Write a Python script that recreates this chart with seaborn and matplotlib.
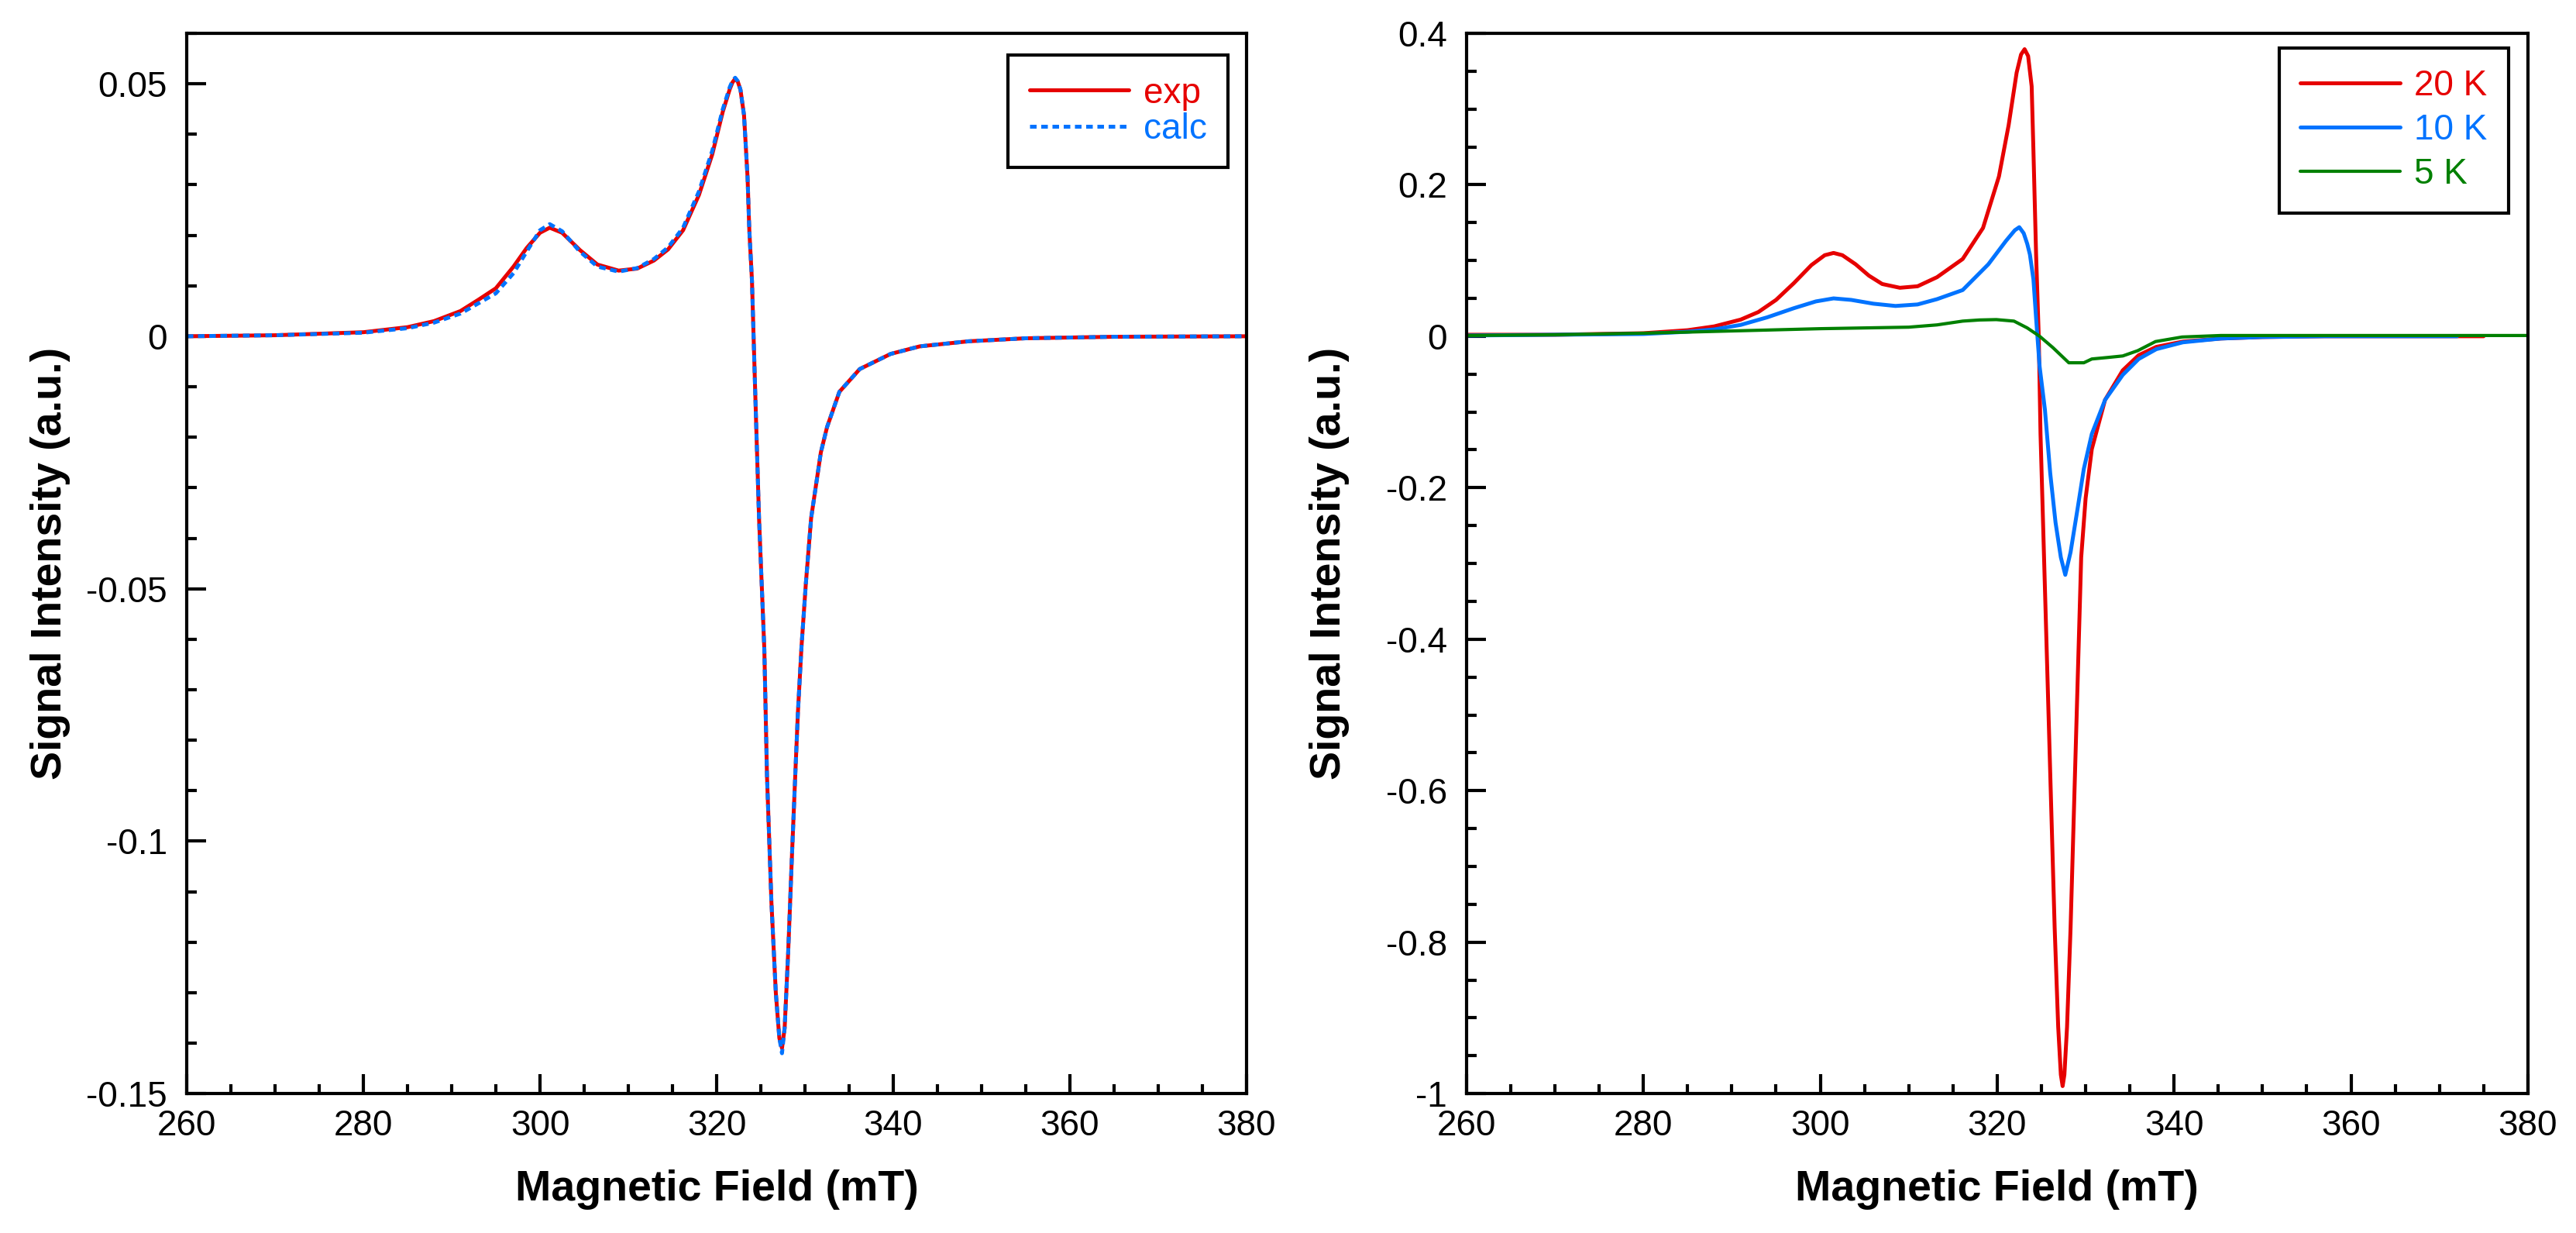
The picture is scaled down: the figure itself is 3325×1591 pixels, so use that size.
import matplotlib
matplotlib.use("Agg")
import matplotlib.pyplot as plt
from matplotlib.ticker import MultipleLocator, FuncFormatter
import seaborn as sns

# --- left panel: experimental vs calculated spectrum ---
field_exp = [260, 270, 280, 285, 288, 291, 293, 295, 297, 298.5, 300, 301.1, 302.5, 304.5,
             306.5, 308.9, 311, 312.9, 314.5, 316.2, 318, 319.5, 320.7, 321.5, 321.8, 322.1,
             322.4, 322.7, 323.1, 323.5, 323.7, 324.0, 324.4, 324.8, 325.4, 325.7, 326.2,
             326.7, 327.1, 327.4, 327.7, 328.1, 328.5, 328.9, 329.2, 329.6, 330.1, 330.7,
             331.8, 332.5, 333.9, 336.2, 339.7, 343, 348.5, 355, 365, 380]
signal_exp = [0.0, 0.0002, 0.0008, 0.0018, 0.003, 0.005, 0.0072, 0.0095, 0.0138, 0.0175,
              0.0205, 0.0215, 0.0205, 0.0171, 0.0142, 0.0130, 0.0134, 0.0150, 0.0172, 0.0210,
              0.0280, 0.0360, 0.0445, 0.0490, 0.0503, 0.0510, 0.0504, 0.0488, 0.0438, 0.0315,
              0.0210, 0.0110, -0.0130, -0.036, -0.062, -0.087, -0.112, -0.130, -0.139, -0.141,
              -0.137, -0.122, -0.104, -0.087, -0.0746, -0.0617, -0.049, -0.036, -0.023,
              -0.018, -0.011, -0.0065, -0.0035, -0.002, -0.001, -0.0004, -0.0001, 0.0]
signal_calc = [0.0, 0.0002, 0.0007, 0.0016, 0.0027, 0.0045, 0.0065, 0.0085, 0.0125, 0.0168,
               0.0210, 0.0222, 0.0208, 0.0168, 0.0138, 0.0128, 0.0135, 0.0153, 0.0176, 0.0215,
               0.0287, 0.0367, 0.0450, 0.0494, 0.0506, 0.0512, 0.0505, 0.0488, 0.0438, 0.0315,
               0.0210, 0.0110, -0.0130, -0.036, -0.062, -0.087, -0.112, -0.130, -0.139, -0.142,
               -0.137, -0.122, -0.104, -0.087, -0.0746, -0.0617, -0.049, -0.036, -0.023,
               -0.018, -0.011, -0.0065, -0.0035, -0.002, -0.001, -0.0004, -0.0001, 0.0]

# --- right panel: temperature series ---
field_20k = [260, 270, 280, 285, 288, 291, 293, 295, 297, 299, 300.5, 301.5, 302.5, 304,
             305.5, 307, 309, 311, 313.2, 316.1, 318.4, 320.2, 321.3, 322.2, 322.7, 323.1,
             323.5, 323.9, 324.1, 324.4, 324.7, 324.9, 325.3, 325.7, 326.1, 326.5, 326.9,
             327.2, 327.4, 327.6, 327.9, 328.3, 328.7, 329.1, 329.5, 330.0, 330.7, 332.2,
             334.2, 336, 338.0, 341, 345.3, 350, 357, 375]
signal_20k = [0.002, 0.002, 0.004, 0.008, 0.013, 0.022, 0.032, 0.048, 0.070, 0.094, 0.107,
              0.110, 0.107, 0.095, 0.080, 0.069, 0.064, 0.066, 0.078, 0.102, 0.143, 0.211,
              0.279, 0.348, 0.372, 0.379, 0.370, 0.330, 0.245, 0.108, 0.0, -0.129, -0.292,
              -0.455, -0.618, -0.781, -0.912, -0.975, -0.99, -0.975, -0.912, -0.781, -0.618,
              -0.455, -0.292, -0.214, -0.149, -0.084, -0.045, -0.025, -0.014, -0.007,
              -0.003, -0.001, 0.0, 0.0]

field_10k = [260, 270, 280, 285, 288, 291, 294, 297, 299.5, 301.5, 303.5, 306, 308.5, 311,
             313.2, 316.1, 319.0, 321.0, 322.0, 322.5, 323.0, 323.4, 323.7, 324.1, 324.4,
             324.8, 325.4, 326.0, 326.6, 327.2, 327.7, 328.3, 329.1, 329.8, 330.7, 332.2,
             334.2, 336, 338.0, 341, 345.3, 350, 357, 372]
signal_10k = [0.001, 0.002, 0.003, 0.006, 0.009, 0.015, 0.025, 0.037, 0.046, 0.050, 0.048,
              0.043, 0.040, 0.042, 0.049, 0.061, 0.095, 0.126, 0.140, 0.144, 0.136, 0.122,
              0.108, 0.075, 0.024, -0.040, -0.097, -0.181, -0.246, -0.292, -0.315, -0.285,
              -0.227, -0.175, -0.129, -0.084, -0.051, -0.030, -0.017, -0.008, -0.003, -0.001,
              0.0, 0.0]

field_5k = [260, 270, 280, 290, 300, 305, 310, 313.2, 316.1, 318, 319.9, 321.9, 323.4, 324.8,
            326.3, 328.1, 329.8, 330.7, 332.5, 334.2, 335.9, 337.9, 340.9, 345.3, 357, 380]
signal_5k = [0.001, 0.002, 0.004, 0.007, 0.010, 0.011, 0.012, 0.015, 0.020, 0.0215, 0.022,
             0.020, 0.011, 0.0, -0.015, -0.035, -0.035, -0.030, -0.028, -0.026, -0.019,
             -0.007, -0.001, 0.001, 0.001, 0.001]

RED = "#e60000"
BLUE = "#0073ff"
GREEN = "#008000"

sns.set_theme(style="ticks")
plt.rcParams["font.family"] = ["Liberation Sans", "DejaVu Sans"]
plt.rcParams["axes.unicode_minus"] = False

fig = plt.figure(figsize=(16.625, 7.955), dpi=200)
ax1 = fig.add_axes([0.0725, 0.113, 0.4114, 0.860])
ax2 = fig.add_axes([0.5693, 0.113, 0.4120, 0.860])

# left panel
sns.lineplot(x=field_exp, y=signal_exp, ax=ax1, color=RED, lw=1.8, label="exp",
             sort=False, estimator=None)
sns.lineplot(x=field_exp, y=signal_calc, ax=ax1, color=BLUE, lw=1.8, label="calc",
             sort=False, estimator=None)
ax1.lines[-1].set_dashes((1.7, 1.2))
ax1.set_ylim(-0.15, 0.06)
ax1.yaxis.set_major_locator(MultipleLocator(0.05))
ax1.yaxis.set_minor_locator(MultipleLocator(0.01))

# right panel
sns.lineplot(x=field_20k, y=signal_20k, ax=ax2, color=RED, lw=1.8, label="20 K",
             sort=False, estimator=None)
sns.lineplot(x=field_10k, y=signal_10k, ax=ax2, color=BLUE, lw=1.8, label="10 K",
             sort=False, estimator=None)
sns.lineplot(x=field_5k, y=signal_5k, ax=ax2, color=GREEN, lw=1.5, label="5 K",
             sort=False, estimator=None)
ax2.set_ylim(-1.0, 0.4)
ax2.yaxis.set_major_locator(MultipleLocator(0.2))
ax2.yaxis.set_minor_locator(MultipleLocator(0.05))

fmt = FuncFormatter(lambda v, p: "%g" % round(v, 4))
legend_spec = [(ax1, (0.9825, 0.9795), 0.05), (ax2, (0.9818, 0.9861), 0.28)]

for ax, anchor, spacing in legend_spec:
    ax.set_xlim(260, 380)
    ax.xaxis.set_major_locator(MultipleLocator(20))
    ax.xaxis.set_minor_locator(MultipleLocator(5))
    ax.yaxis.set_major_formatter(fmt)
    ax.tick_params(which="both", direction="in", top=False, right=False, width=1.5,
                   color="black", labelsize=16.5, labelcolor="black")
    ax.tick_params(which="major", length=9)
    ax.tick_params(which="minor", length=4.5)
    ax.tick_params(axis="x", which="major", pad=7)
    ax.tick_params(axis="y", which="major", pad=9)
    for sp in ax.spines.values():
        sp.set_visible(True)
        sp.set_linewidth(1.5)
        sp.set_color("black")
    ax.set_facecolor("white")
    ax.grid(False)

    ax.set_xlabel("Magnetic Field (mT)", fontsize=20, fontweight="bold", color="black")
    ax.set_ylabel("Signal Intensity (a.u.)", fontsize=20, fontweight="bold", color="black")
    ax.xaxis.label.set_va("center")
    ax.yaxis.label.set_va("center")
    ax.xaxis.set_label_coords(0.5, -0.0906)
    ax.yaxis.set_label_coords(-0.129, 0.5)

    leg = ax.legend(loc="upper right", bbox_to_anchor=anchor, borderaxespad=0,
                    frameon=True, fancybox=False, framealpha=1, edgecolor="black",
                    fontsize=16.5, handlelength=2.8, handletextpad=0.4, borderpad=0.6,
                    labelspacing=spacing)
    leg.get_frame().set_linewidth(1.5)
    for txt, line in zip(leg.get_texts(), leg.get_lines()):
        txt.set_color(line.get_color())

fig.savefig("out.png", dpi=200, facecolor="white")
